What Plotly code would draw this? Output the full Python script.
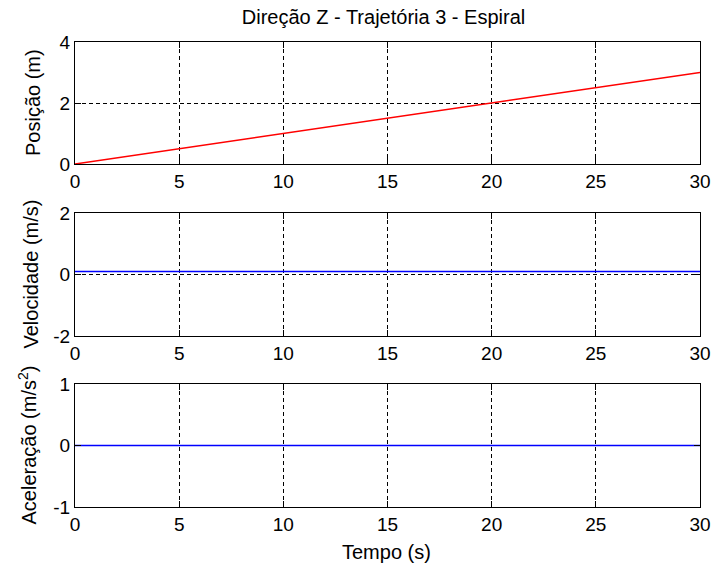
import plotly.graph_objects as go
from plotly.subplots import make_subplots

# Data
tempo = [0, 30]
posicao = [0.0, 3.0]
velocidade = [0.1, 0.1]
aceleracao = [0.0, 0.0]

x_ticks = [0, 5, 10, 15, 20, 25, 30]
y1_ticks = [0, 2, 4]
y2_ticks = [-2, 0, 2]
y3_ticks = [-1, 0, 1]

title_text = "Direção Z - Trajetória 3 - Espiral"
y_titles = ["Posição (m)", "Velocidade (m/s)", "Aceleração (m/s<sup>2</sup>)"]
x_title = "Tempo (s)"

W, H = 713, 570
ML, MR, MT, MB = 75, 13, 42, 63
PW, PH = W - ML - MR, H - MT - MB

fig = make_subplots(rows=3, cols=1)

fig.add_trace(go.Scatter(x=tempo, y=posicao, mode="lines",
                         line=dict(color="#ff0000", width=1.5), showlegend=False), row=1, col=1)
fig.add_trace(go.Scatter(x=tempo, y=velocidade, mode="lines",
                         line=dict(color="#0000ff", width=1.5), showlegend=False), row=2, col=1)
fig.add_trace(go.Scatter(x=tempo, y=aceleracao, mode="lines",
                         line=dict(color="#0000ff", width=1.5), showlegend=False), row=3, col=1)

# panel pixel extents (top, bottom)
panels_px = [(42, 164), (213, 336), (384, 507)]
domains = [[(H - MB - b) / PH, (H - MB - t) / PH] for t, b in panels_px]
yranges = [[0, 4], [-2, 2], [-1, 1]]
yticks = [y1_ticks, y2_ticks, y3_ticks]
label_x_px = [33, 30, 27]

axis_common = dict(showline=True, mirror="allticks", linecolor="black", linewidth=1.3,
                   showgrid=True, gridcolor="black", gridwidth=1, griddash="4px,3px",
                   zeroline=False, ticks="inside", ticklen=6, tickcolor="black", tickwidth=1.3,
                   automargin=False,
                   tickfont=dict(size=19, color="black"))

annotations = []
for i in range(3):
    xa = "xaxis" if i == 0 else f"xaxis{i+1}"
    ya = "yaxis" if i == 0 else f"yaxis{i+1}"
    fig.layout[xa].update(range=[0, 30], tickvals=x_ticks,
                          ticktext=[str(v) for v in x_ticks], **axis_common)
    fig.layout[ya].update(range=yranges[i], tickvals=yticks[i],
                          ticktext=[str(v) for v in yticks[i]], domain=domains[i],
                          **axis_common)
    t, b = panels_px[i]
    annotations.append(dict(text=y_titles[i], textangle=-90, showarrow=False,
                            xref="paper", yref="paper",
                            x=(label_x_px[i] - ML) / PW, y=(H - MB - (t + b) / 2) / PH,
                            xanchor="center", yanchor="middle",
                            font=dict(size=20, color="black")))

annotations.append(dict(text=x_title, showarrow=False, xref="paper", yref="paper",
                        x=(386 - ML) / PW, y=(H - MB - 552) / PH,
                        xanchor="center", yanchor="middle",
                        font=dict(size=20, color="black")))

fig.update_layout(
    width=W, height=H,
    margin=dict(l=ML, r=MR, t=MT, b=MB, autoexpand=False),
    paper_bgcolor="white", plot_bgcolor="white",
    font=dict(family="Liberation Sans, Arial, sans-serif", color="black"),
    title=dict(text=title_text, x=(383.5) / W, xanchor="center", y=1 - 17 / H, yref="container",
               yanchor="middle", font=dict(size=20, color="black")),
    annotations=annotations,
)

fig.write_html("out.html", config={"displayModeBar": False},
               post_script="document.body.style.margin='0';document.body.style.overflow='hidden';")
